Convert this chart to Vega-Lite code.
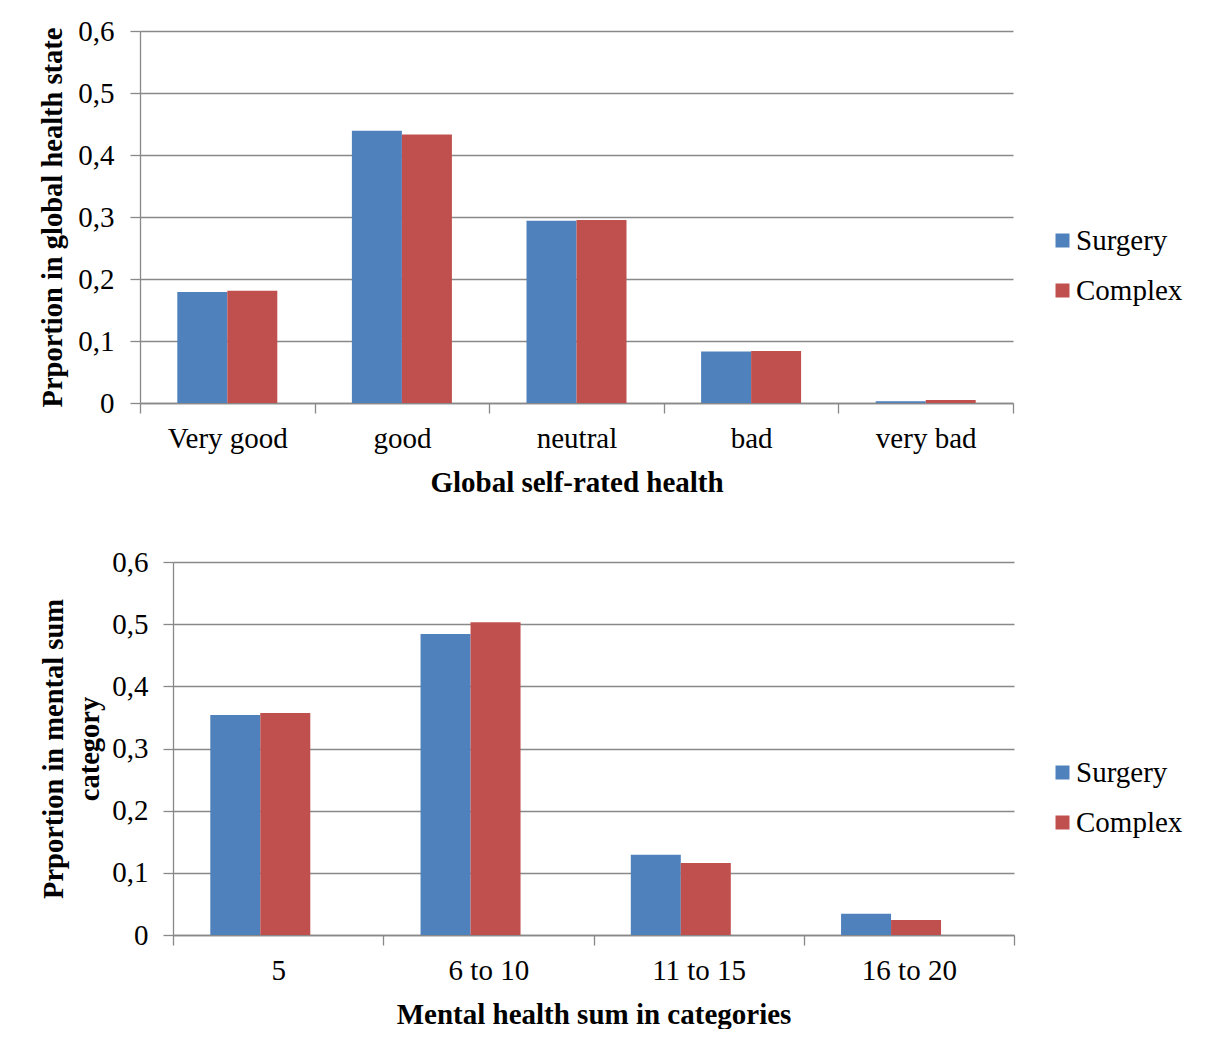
{
  "$schema": "https://vega.github.io/schema/vega-lite/v6.json",
  "background": "white",
  "padding": {"top": 17, "left": 38, "right": 0, "bottom": 0},
  "datasets": {
    "global": [
      {"rating": "Very good", "group": "Surgery", "proportion": 0.179},
      {"rating": "Very good", "group": "Complex", "proportion": 0.181},
      {"rating": "good", "group": "Surgery", "proportion": 0.439},
      {"rating": "good", "group": "Complex", "proportion": 0.433},
      {"rating": "neutral", "group": "Surgery", "proportion": 0.294},
      {"rating": "neutral", "group": "Complex", "proportion": 0.295},
      {"rating": "bad", "group": "Surgery", "proportion": 0.083},
      {"rating": "bad", "group": "Complex", "proportion": 0.084},
      {"rating": "very bad", "group": "Surgery", "proportion": 0.003},
      {"rating": "very bad", "group": "Complex", "proportion": 0.005}
    ],
    "mental": [
      {"sumCategory": "5", "group": "Surgery", "proportion": 0.354},
      {"sumCategory": "5", "group": "Complex", "proportion": 0.357},
      {"sumCategory": "6 to 10", "group": "Surgery", "proportion": 0.484},
      {"sumCategory": "6 to 10", "group": "Complex", "proportion": 0.503},
      {"sumCategory": "11 to 15", "group": "Surgery", "proportion": 0.129},
      {"sumCategory": "11 to 15", "group": "Complex", "proportion": 0.116},
      {"sumCategory": "16 to 20", "group": "Surgery", "proportion": 0.034},
      {"sumCategory": "16 to 20", "group": "Complex", "proportion": 0.024}
    ]
  },
  "center": true,
  "spacing": 51,
  "vconcat": [
    {
      "data": {"name": "global"},
      "width": 873,
      "height": 372,
      "mark": {"type": "bar"},
      "encoding": {
        "x": {
          "field": "rating",
          "type": "nominal",
          "sort": ["Very good", "good", "neutral", "bad", "very bad"],
          "scale": {"paddingInner": 0, "paddingOuter": 0},
          "axis": {"title": "Global self-rated health", "labelAngle": 0, "tickBand": "extent"}
        },
        "xOffset": {
          "field": "group",
          "sort": ["Surgery", "Complex"],
          "scale": {"paddingInner": 0, "paddingOuter": 0.746}
        },
        "y": {
          "field": "proportion",
          "type": "quantitative",
          "scale": {"domain": [0, 0.6], "nice": false},
          "axis": {
            "title": "Prportion in global health state",
            "values": [0, 0.1, 0.2, 0.3, 0.4, 0.5, 0.6],
            "labelExpr": "datum.value == 0 ? '0' : replace(format(datum.value, '.1f'), '.', ',')",
            "labelPadding": 16,
            "titlePadding": 10
          }
        },
        "color": {
          "field": "group",
          "type": "nominal",
          "scale": {"domain": ["Surgery", "Complex"], "range": ["#4F81BD", "#C0504D"]},
          "legend": {"title": null, "orient": "none", "padding": 33, "legendX": 875, "legendY": 162}
        }
      }
    },
    {
      "data": {"name": "mental"},
      "width": 841,
      "height": 373,
      "mark": {"type": "bar"},
      "encoding": {
        "x": {
          "field": "sumCategory",
          "type": "nominal",
          "sort": ["5", "6 to 10", "11 to 15", "16 to 20"],
          "scale": {"paddingInner": 0, "paddingOuter": 0},
          "axis": {"title": "Mental health sum in categories", "labelAngle": 0, "tickBand": "extent"}
        },
        "xOffset": {
          "field": "group",
          "sort": ["Surgery", "Complex"],
          "scale": {"paddingInner": 0, "paddingOuter": 0.752}
        },
        "y": {
          "field": "proportion",
          "type": "quantitative",
          "scale": {"domain": [0, 0.6], "nice": false},
          "axis": {
            "title": ["Prportion in mental sum", "category"],
            "values": [0, 0.1, 0.2, 0.3, 0.4, 0.5, 0.6],
            "labelExpr": "datum.value == 0 ? '0' : replace(format(datum.value, '.1f'), '.', ',')",
            "labelPadding": 15,
            "titlePadding": 7,
            "titleLineHeight": 36
          }
        },
        "color": {
          "field": "group",
          "type": "nominal",
          "scale": {"domain": ["Surgery", "Complex"], "range": ["#4F81BD", "#C0504D"]},
          "legend": {"title": null, "orient": "none", "legendX": 875, "legendY": 196}
        }
      }
    }
  ],
  "resolve": {"scale": {"color": "independent"}, "legend": {"color": "independent"}},
  "config": {
    "font": "Liberation Serif",
    "view": {"stroke": null},
    "axis": {
      "labelFont": "Liberation Serif",
      "labelFontSize": 29,
      "labelColor": "#000000",
      "titleFont": "Liberation Serif",
      "titleFontSize": 29,
      "titleFontWeight": "bold",
      "titleColor": "#000000",
      "domainColor": "#898989",
      "domainWidth": 1.3,
      "tickColor": "#898989",
      "tickWidth": 1.3,
      "tickSize": 10,
      "gridColor": "#898989",
      "gridWidth": 1.3
    },
    "axisX": {"grid": false, "labelPadding": 11, "titlePadding": 15},
    "axisY": {"grid": true, "titleFontSize": 28.5},
    "legend": {
      "labelFont": "Liberation Serif",
      "labelFontSize": 29,
      "labelColor": "#000000",
      "symbolType": "square",
      "symbolSize": 196,
      "symbolStrokeWidth": 0,
      "labelOffset": -1,
      "rowPadding": 20,
      "padding": 0
    }
  }
}
